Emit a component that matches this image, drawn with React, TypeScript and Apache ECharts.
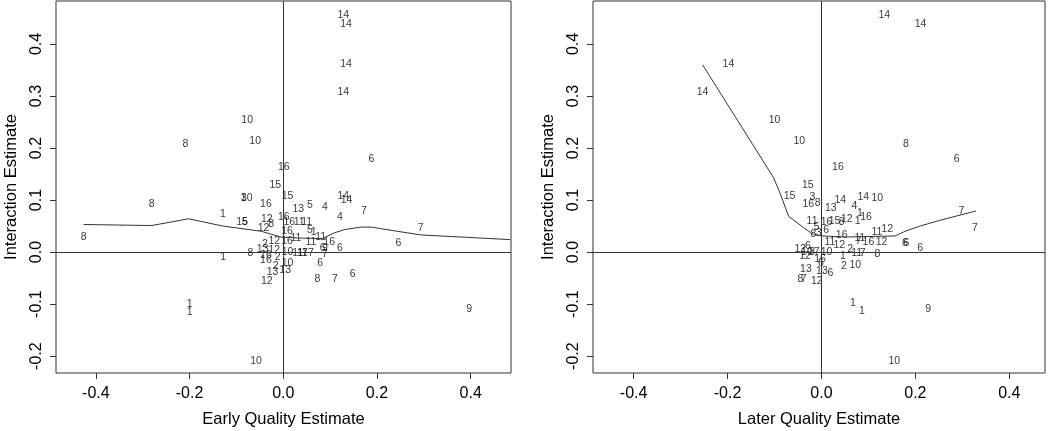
import React, { useEffect, useRef } from "react";
import * as echarts from "echarts";

// [label, x, y]
const earlyPoints: [string, number, number][] = [
  ["14", 0.128, 0.458], ["14", 0.134, 0.441], ["14", 0.134, 0.363], ["14", 0.128, 0.309], ["14", 0.128, 0.110], ["14", 0.135, 0.1025],
  ["10", -0.077, 0.255], ["10", -0.060, 0.2145], ["10", -0.078, 0.105], ["10", 0.009, 0.002], ["10", 0.009, -0.020], ["10", -0.058, -0.208],
  ["3", -0.084, 0.105],
  ["8", -0.209, 0.209], ["8", -0.281, 0.095], ["8", -0.426, 0.031], ["8", -0.026, 0.056], ["8", -0.070, 0.001], ["8", 0.073, -0.049],
  ["6", 0.188, 0.180], ["6", 0.246, 0.020], ["6", 0.084, 0.010], ["6", 0.121, 0.010], ["6", 0.079, -0.020], ["6", 0.148, -0.041],
  ["16", 0.001, 0.165], ["16", -0.037, 0.094], ["16", 0.001, 0.069], ["16", 0.013, 0.059], ["16", 0.008, 0.043], ["16", 0.008, 0.024], ["16", 0.098, 0.021], ["16", -0.037, -0.004], ["16", -0.037, -0.014],
  ["15", -0.017, 0.1305], ["15", 0.009, 0.110], ["15", -0.088, 0.059],
  ["5", 0.057, 0.092], ["5", -0.082, 0.059], ["5", 0.057, 0.045],
  ["13", 0.032, 0.085], ["13", -0.044, 0.008], ["13", -0.023, -0.036], ["13", 0.004, -0.033],
  ["4", 0.089, 0.0885], ["4", 0.121, 0.069],
  ["7", 0.172, 0.080], ["7", 0.293, 0.048], ["7", 0.046, 0.001], ["7", 0.059, 0.001], ["7", 0.089, -0.001], ["7", 0.110, -0.049],
  ["1", -0.129, 0.075], ["1", -0.128, -0.007], ["1", -0.200, -0.097], ["1", -0.200, -0.114], ["1", 0.065, 0.040],
  ["12", -0.035, 0.066], ["12", -0.042, 0.048], ["12", -0.019, 0.024], ["12", -0.019, 0.005], ["12", -0.035, -0.054],
  ["11", 0.034, 0.059], ["11", 0.050, 0.059], ["11", 0.027, 0.029], ["11", 0.080, 0.031], ["11", 0.059, 0.021], ["11", 0.031, 0.001], ["11", 0.041, 0.001],
  ["2", -0.039, 0.017], ["2", -0.012, -0.007], ["2", -0.016, -0.025],
  ["9", 0.397, -0.108], ["9", 0.089, 0.010],
];

const earlyCurveX = [-0.426, -0.281, -0.202, -0.129, -0.047, -0.005, 0.031, 0.084, 0.109, 0.130, 0.165, 0.190, 0.208, 0.293, 0.484];
const earlyCurveY = [0.053, 0.051, 0.064, 0.050, 0.040, 0.029, 0.027, 0.026, 0.037, 0.043, 0.048, 0.048, 0.045, 0.033, 0.024];

const laterPoints: [string, number, number][] = [
  ["14", 0.134, 0.457], ["14", 0.211, 0.441], ["14", -0.198, 0.363], ["14", -0.253, 0.309], ["14", 0.040, 0.102], ["14", 0.089, 0.107],
  ["10", -0.100, 0.255], ["10", -0.047, 0.2145], ["10", 0.119, 0.106], ["10", 0.011, 0.003], ["10", 0.072, -0.023], ["10", 0.155, -0.208], ["10", -0.031, 0.003],
  ["8", 0.180, 0.209], ["8", -0.008, 0.0955], ["8", 0.043, 0.059], ["8", -0.017, 0.037], ["8", 0.119, -0.001], ["8", -0.045, -0.049], ["8", -0.020, 0.003],
  ["6", 0.288, 0.180], ["6", 0.010, 0.045], ["6", 0.178, 0.020], ["6", 0.181, 0.020], ["6", 0.210, 0.010], ["6", -0.029, 0.014], ["6", -0.001, -0.020], ["6", 0.019, -0.039],
  ["16", 0.035, 0.165], ["16", -0.028, 0.094], ["16", 0.095, 0.069], ["16", 0.011, 0.059], ["16", 0.043, 0.034], ["16", 0.100, 0.022], ["16", -0.003, -0.011],
  ["15", -0.029, 0.1305], ["15", -0.068, 0.110], ["15", 0.028, 0.062],
  ["3", -0.019, 0.108], ["3", -0.006, 0.038],
  ["13", 0.020, 0.086], ["13", -0.033, -0.030], ["13", 0.001, -0.035],
  ["4", 0.070, 0.091],
  ["1", 0.082, 0.078], ["1", 0.077, 0.061], ["1", 0.046, -0.006], ["1", 0.067, -0.095], ["1", 0.086, -0.112],
  ["12", 0.054, 0.066], ["12", 0.140, 0.046], ["12", 0.128, 0.021], ["12", 0.038, 0.015], ["12", -0.045, 0.007], ["12", -0.035, -0.006], ["12", -0.010, -0.054],
  ["11", -0.020, 0.061], ["11", 0.082, 0.029], ["11", 0.118, 0.040], ["11", 0.018, 0.022], ["11", 0.075, 0.001],
  ["5", -0.010, 0.050],
  ["7", 0.298, 0.081], ["7", 0.327, 0.048], ["7", 0.079, 0.024], ["7", 0.088, 0.001], ["7", -0.010, 0.003], ["7", -0.038, -0.049],
  ["2", 0.061, 0.008], ["2", 0.048, -0.025],
  ["9", 0.227, -0.108],
];

const laterCurveX = [-0.253, -0.102, -0.088, -0.070, -0.038, -0.017, 0.001, 0.054, 0.157, 0.178, 0.210, 0.252, 0.329];
const laterCurveY = [0.360, 0.143, 0.113, 0.069, 0.047, 0.034, 0.031, 0.029, 0.031, 0.040, 0.050, 0.061, 0.079];

const xTicks = [-0.4, -0.2, 0, 0.2, 0.4];
const yTicks = [-0.2, -0.1, 0, 0.1, 0.2, 0.3, 0.4];
const xTitles = ["Early Quality Estimate", "Later Quality Estimate"];
const yTitle = "Interaction Estimate";

const FONT = "'Liberation Sans', Arial, sans-serif";
const LINE = "#333";

export default function App() {
  const ref = useRef<HTMLDivElement>(null);
  useEffect(() => {
    if (!ref.current) return;
    const chart = echarts.init(ref.current, null, { renderer: "svg" });
    const xRanges = [
      [-0.485, 0.486],
      [-0.4864, 0.476],
    ];
    const grids = [
      { left: 54, top: 1, width: 457, height: 375 },
      { left: 593, top: 1, width: 452, height: 375 },
    ];
    const mkX = (i: number) => ({
      type: "value",
      gridIndex: i,
      min: xRanges[i][0],
      max: xRanges[i][1],
      name: xTitles[i],
      nameLocation: "middle",
      nameGap: 36,
      nameTextStyle: { fontSize: 16.5, color: "#000", fontFamily: FONT },
      axisLine: { show: false, onZero: false },
      axisTick: { show: true, inside: false, length: 6, customValues: xTicks, lineStyle: { color: LINE } },
      axisLabel: {
        customValues: xTicks,
        fontSize: 16,
        color: "#000",
        fontFamily: FONT,
        margin: 11,
        formatter: (v: number) => v.toFixed(1),
      },
      splitLine: { show: false },
    });
    const mkY = (i: number) => ({
      type: "value",
      gridIndex: i,
      min: -0.2324,
      max: 0.4826,
      name: yTitle,
      nameLocation: "middle",
      nameGap: 38,
      nameTextStyle: { fontSize: 16.5, color: "#000", fontFamily: FONT },
      axisLine: { show: false, onZero: false },
      axisTick: { show: true, inside: false, length: 6, customValues: yTicks, lineStyle: { color: LINE } },
      axisLabel: {
        customValues: yTicks,
        rotate: 90,
        fontSize: 16,
        color: "#000",
        fontFamily: FONT,
        margin: 13,
        formatter: (v: number) => v.toFixed(1),
      },
      splitLine: { show: false },
    });
    const pointSeries = (i: number, pts: [string, number, number][]) => ({
      type: "scatter",
      xAxisIndex: i,
      yAxisIndex: i,
      symbol: "circle",
      symbolSize: 0,
      itemStyle: { color: "#000" },
      silent: true,
      label: {
        show: true,
        position: "inside",
        formatter: (p: any) => p.data.name,
        fontSize: 10.5,
        color: "#000",
        fontFamily: FONT,
      },
      data: pts.map((p) => ({
        name: p[0],
        value: [p[1], p[2]],
      })),
      markLine: {
        silent: true,
        symbol: "none",
        label: { show: false },
        lineStyle: { color: LINE, width: 1, type: "solid" },
        data: [{ xAxis: 0 }, { yAxis: 0 }],
      },
    });
    const curveSeries = (i: number, xs: number[], ys: number[]) => ({
      type: "line",
      xAxisIndex: i,
      yAxisIndex: i,
      showSymbol: false,
      symbol: "none",
      silent: true,
      itemStyle: { color: LINE },
      lineStyle: { color: LINE, width: 1 },
      data: xs.map((x, k) => [x, ys[k]]),
    });
    chart.setOption({
      animation: false,
      color: ["#000"],
      grid: grids.map((g) => ({ ...g, show: true, borderColor: LINE, borderWidth: 1, backgroundColor: "transparent" })),
      xAxis: [mkX(0), mkX(1)],
      yAxis: [mkY(0), mkY(1)],
      series: [
        curveSeries(0, earlyCurveX, earlyCurveY),
        pointSeries(0, earlyPoints),
        curveSeries(1, laterCurveX, laterCurveY),
        pointSeries(1, laterPoints),
      ],
    });
    return () => chart.dispose();
  }, []);
  return (
    <div
      ref={ref}
      style={{
        position: "fixed",
        left: 0,
        top: 0,
        width: 1050,
        height: 431,
        background: "#fff",
        filter: "grayscale(1)",
      }}
    />
  );
}
